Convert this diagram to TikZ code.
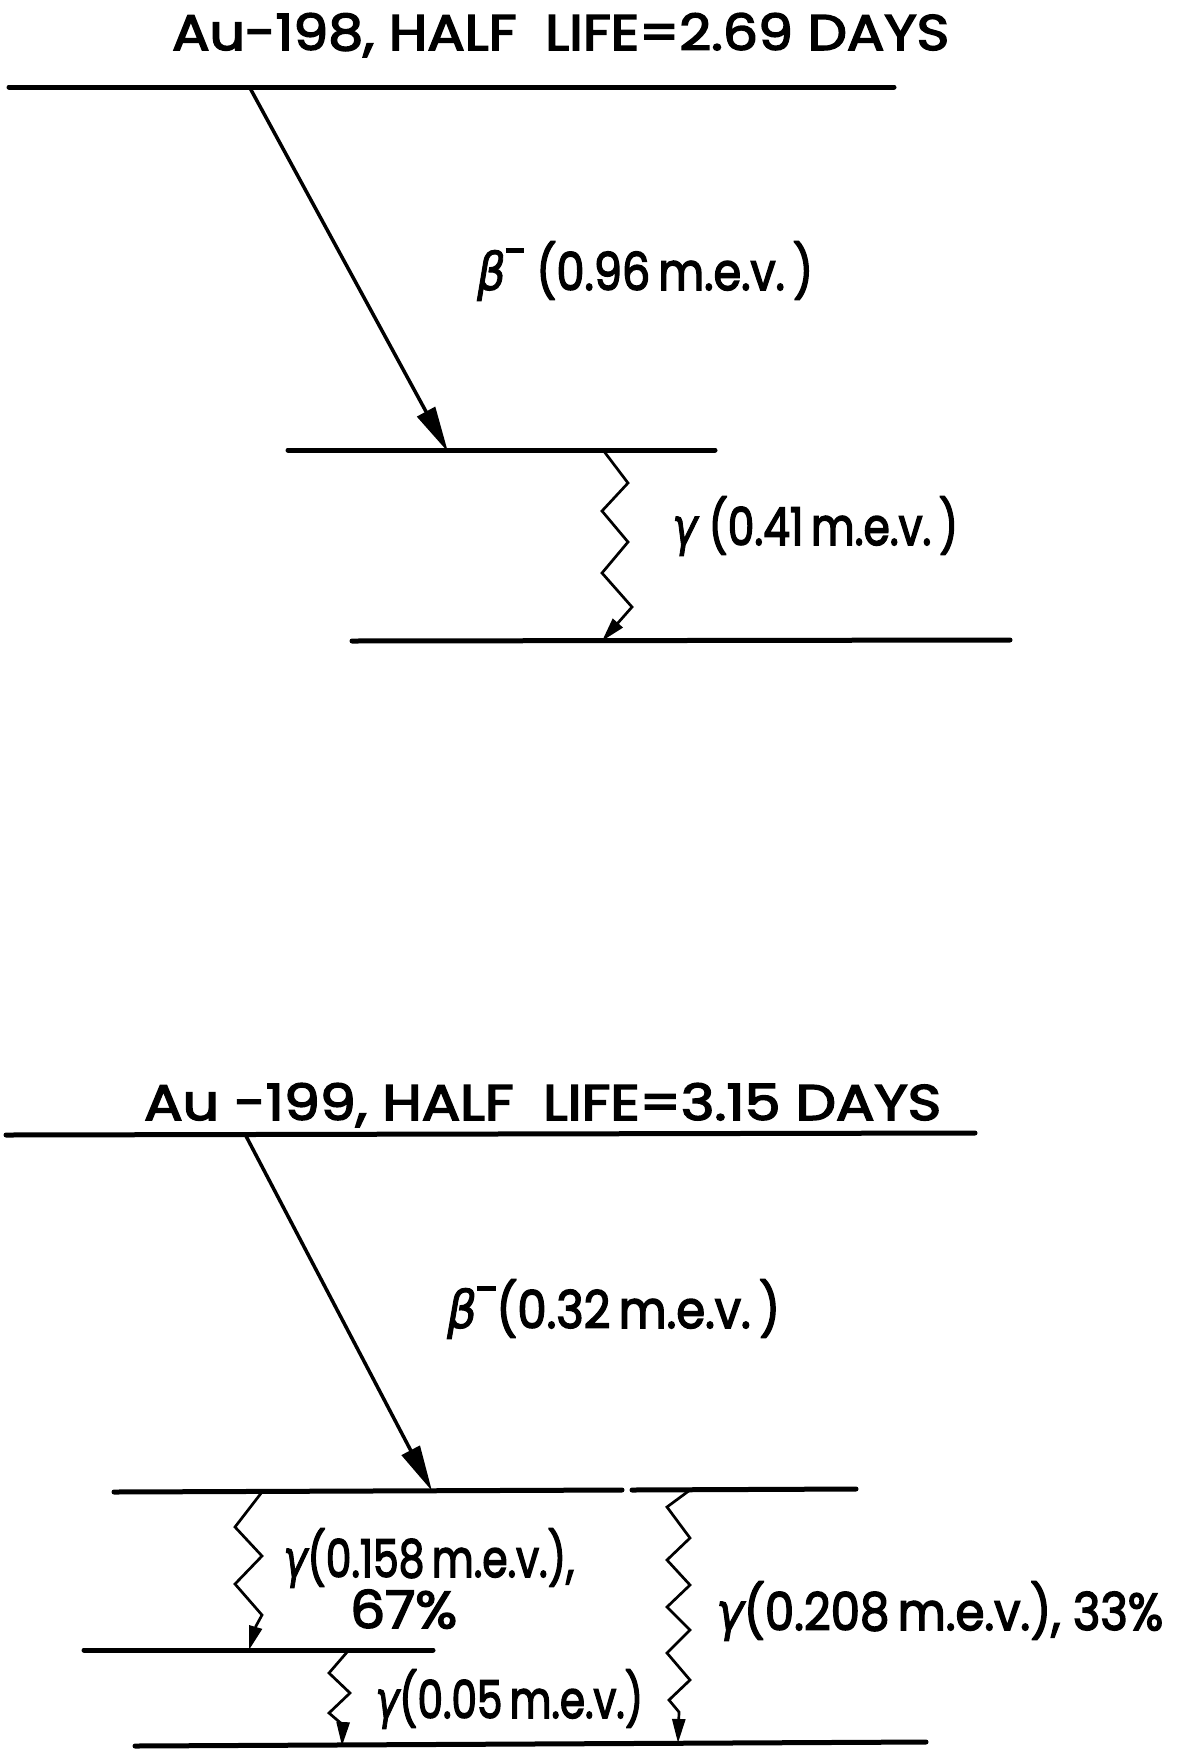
\documentclass[tikz,border=0pt]{standalone}
\usepackage{fontspec}
\setmainfont{Poppins}
\newfontfamily\txtfont{Poppins}[FakeBold=3]
\newfontfamily\grk{DejaVu Sans}[FakeBold=2]
\usetikzlibrary{arrows.meta}
\newcommand{\fitw}[2]{\resizebox{#1}{\height}{#2}}
\newcommand{\bminus}{\raisebox{0.72em}{\rule{0.42em}{0.08em}}}
\newcommand{\gbeta}{{\grk\itshape β}}
\newcommand{\ggamma}{{\grk\itshape γ}}
\newcommand{\smsp}{\hspace{0.18em}}
\begin{document}
\begin{tikzpicture}[x=1pt,y=-1pt,
  level/.style={line width=5pt, line cap=round},
  betaarrow/.style={line width=3.5pt, -{Triangle[length=46pt,width=20pt]}},
  gam/.style={line width=2.7pt, line join=miter, -{Triangle[length=24pt,width=13pt]}},
  ttl/.style={anchor=base west, inner sep=0pt, font=\txtfont\fontsize{50}{60}\selectfont},
  lbl/.style={anchor=base west, inner sep=0pt, font=\txtfont\fontsize{52}{62}\selectfont}]
\fill[white] (0,0) rectangle (1185,1751);
\useasboundingbox (0,0) rectangle (1185,1751);

% ---------- Au-198 ----------
\node[ttl] (t1) at (172,50) {\fitw{777pt}{Au-198, HALF\hspace{0.25em} LIFE=2.69 DAYS}};
\coordinate (a1) at (9,87);   \coordinate (a2) at (894,87);
\coordinate (m1) at (288,450); \coordinate (m2) at (715,450);
\coordinate (n1) at (352,641); \coordinate (n2) at (1010,640);
\draw[level] (a1) -- (a2);
\draw[level] (m1) -- (m2);
\draw[level] (n1) -- (n2);
\coordinate (b1s) at (250,88); \coordinate (b1e) at (448,452);
\draw[betaarrow] (b1s) -- (b1e);
\node[lbl] (l1) at (477,290) {\fitw{336pt}{\gbeta\bminus\ (0.96\smsp m.e.v.\smsp)}};
\coordinate (g1s) at (603,450); \coordinate (g1e) at (602,641);
\draw[gam] (g1s) -- (628,483) -- (602,511) -- (628,542) -- (602,573) -- (632,607) -- (g1e);
\node[lbl] (l2) at (672,545) {\fitw{286pt}{\ggamma\ (0.41\smsp m.e.v.\smsp)}};

% ---------- Au-199 ----------
\node[ttl] (t2) at (144,1120) {\fitw{797pt}{Au -199, HALF\hspace{0.25em} LIFE=3.15 DAYS}};
\coordinate (c1) at (6,1135);   \coordinate (c2) at (975,1133);
\coordinate (d1) at (114,1492); \coordinate (d2) at (622,1490);
\coordinate (d3) at (632,1490); \coordinate (d4) at (856,1489);
\coordinate (e1) at (84,1650);  \coordinate (e2) at (433,1650);
\coordinate (f1) at (135,1746); \coordinate (f2) at (926,1742);
\draw[level] (c1) -- (c2);
\draw[level] (d1) -- (d2);
\draw[level] (d3) -- (d4);
\draw[level] (e1) -- (e2);
\draw[level] (f1) -- (f2);
\coordinate (b2s) at (246,1136); \coordinate (b2e) at (432,1491);
\draw[betaarrow] (b2s) -- (b2e);
\node[lbl] (l3) at (447,1328) {\fitw{333pt}{\gbeta\bminus(0.32\smsp m.e.v.\smsp)}};

\coordinate (g2s) at (262,1492); \coordinate (g2e) at (249,1650);
\draw[gam] (g2s) -- (235,1527) -- (262,1556) -- (235,1584) -- (262,1615) -- (256,1626) -- (g2e);
\node[lbl] (l4) at (283,1577) {\fitw{291pt}{\ggamma(0.158\smsp m.e.v.),}};
\node[lbl] (l4b) at (350,1628) {\fitw{107pt}{67\%}};

\coordinate (g3s) at (348,1651); \coordinate (g3e) at (342,1746);
\draw[gam] (g3s) -- (329,1673) -- (350,1693) -- (329,1713) -- (343,1725) -- (g3e);
\node[lbl] (l5) at (375,1718) {\fitw{268pt}{\ggamma(0.05\smsp m.e.v.)}};

\coordinate (g4s) at (690,1490); \coordinate (g4e) at (678,1743);
\draw[gam] (g4s) -- (667,1507) -- (690,1538) -- (667,1560) -- (690,1585) -- (667,1607) -- (690,1630) -- (667,1653) -- (690,1680) -- (669,1700) -- (679,1712) -- (g4e);
\node[lbl] (l6) at (716,1630) {\fitw{447pt}{\ggamma(0.208\smsp m.e.v.), 33\%}};
\end{tikzpicture}
\end{document}
